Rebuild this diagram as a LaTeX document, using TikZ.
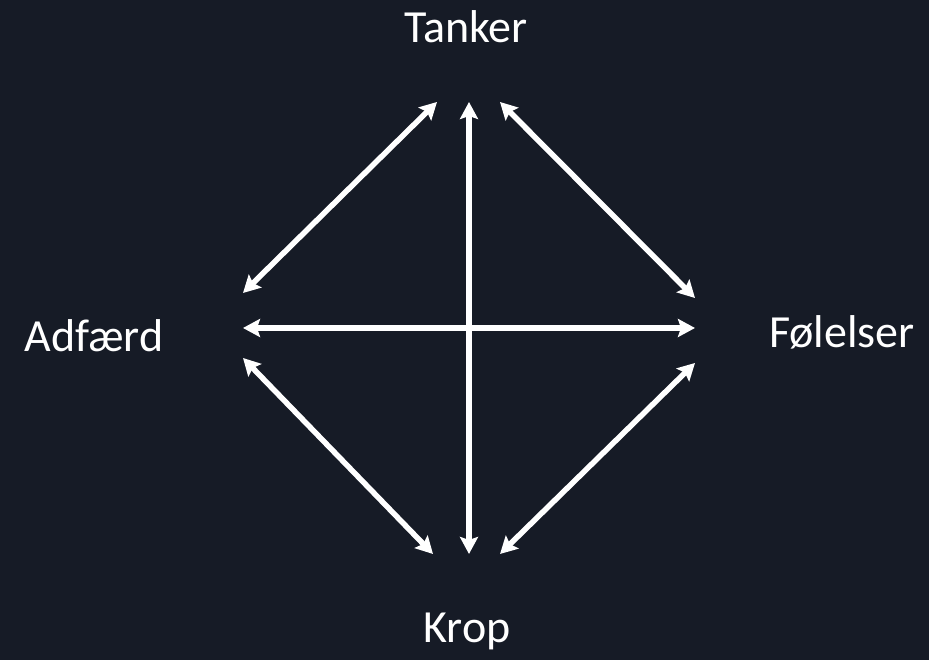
\documentclass[tikz,border=0pt]{standalone}
\usepackage{fontspec}
\setmainfont{Carlito}
\usepackage{tikz}
\usetikzlibrary{arrows.meta,positioning}
\definecolor{bgdark}{RGB}{22,27,38}

\begin{document}
\begin{tikzpicture}[
    x=1pt, y=1pt,
    every node/.style={font=\fontsize{46}{52}\selectfont, text=white},
    area/.style={anchor=base, inner sep=0pt},
    link/.style={{Stealth[length=17pt,width=18pt,inset=3pt]}-{Stealth[length=17pt,width=18pt,inset=3pt]},
                 draw=white, line width=5.5pt},
]

%% Background
\fill[bgdark] (0,0) rectangle (929,660);
\useasboundingbox (0,0) rectangle (929,660);

%% The four areas
\node[area] (tanker)   at (466,617) {Tanker};
\node[area] (krop)     at (467,17)  {Krop};
\node[area] (adfaerd)  at (94,308)  {Adfærd};
\node[area] (folelser) at (842,312) {Følelser};

%% Arrow ends
\coordinate (top) at (469,558);
\coordinate (bot) at (469,106);
\coordinate (lft) at (243,332);
\coordinate (rgt) at (695,332);

%% Cross
\draw[link] (top) -- (bot);
\draw[link] (lft) -- (rgt);

%% Diamond
\draw[link] ([xshift=-32pt]top) -- ([yshift=35pt]lft);
\draw[link] ([xshift=31pt]top)  -- ([yshift=30pt]rgt);
\draw[link] ([yshift=-30pt]lft) -- ([xshift=-36pt]bot);
\draw[link] ([xshift=31pt]bot)  -- ([yshift=-35pt]rgt);

\end{tikzpicture}
\end{document}
